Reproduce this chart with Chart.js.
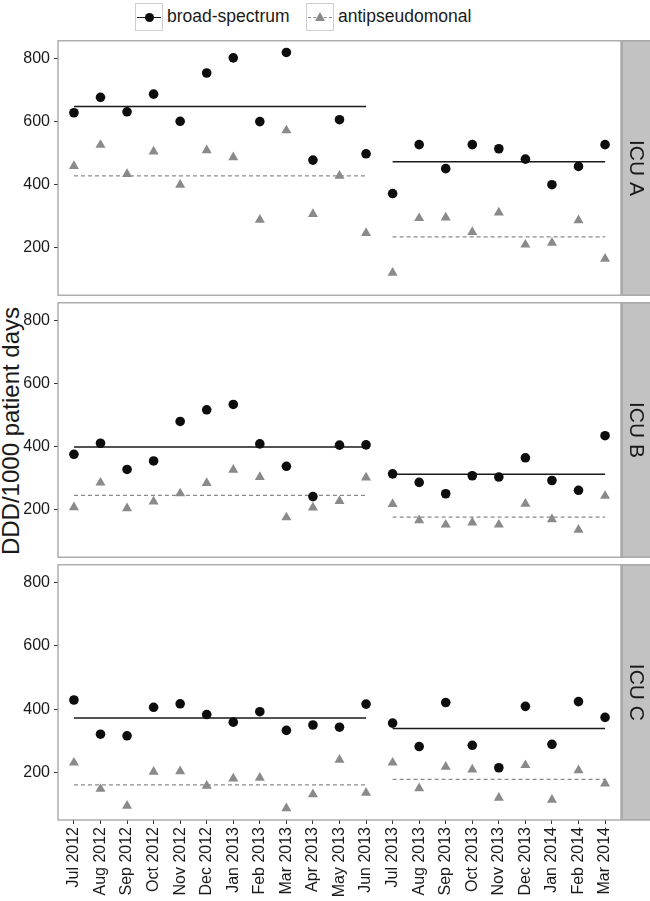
<!DOCTYPE html>
<html>
<head>
<meta charset="utf-8">
<script src="https://cdn.jsdelivr.net/npm/chart.js@4.4.1/dist/chart.umd.min.js"></script>
<style>
  body { margin: 0; background: #fff; font-family: "Liberation Sans", Arial, sans-serif; }
  #wrap { position: relative; width: 650px; height: 901px; overflow: hidden; }
  .box { position: absolute; left: 0; width: 650px; }
  .key { position: absolute; top: 3px; width: 28px; height: 28px; border: 1px solid #cfcfcf; box-sizing: border-box; }
  .key .ln { position: absolute; left: 1px; right: 1px; top: 13px; height: 0; }
  .key .dot { position: absolute; left: 9px; top: 9px; width: 9px; height: 9px; border-radius: 50%; background: #0d0d0d; }
  .key .tri { position: absolute; left: 8px; top: 8px; width: 0; height: 0;
              border-left: 5px solid transparent; border-right: 5px solid transparent; border-bottom: 9px solid #8a8a8a; }
  .lab { position: absolute; top: 6px; font-size: 17.5px; color: #1a1a1a; line-height: 20px; }
  #ytitle { position: absolute; left: 11px; top: 431px; transform: translate(-50%, -50%) rotate(-90deg);
            white-space: nowrap; font-size: 24px; color: #1a1a1a; }
</style>
</head>
<body>
<div id="wrap">
  <div class="key" style="left:135px"><div class="ln" style="border-top:1.3px solid #1a1a1a"></div><div class="dot"></div></div>
  <div class="lab" style="left:167px">broad-spectrum</div>
  <div class="key" style="left:306px"><div class="ln" style="border-top:1.2px dashed #8a8a8a"></div><div class="tri"></div></div>
  <div class="lab" style="left:338px">antipseudomonal</div>
  <div id="ytitle">DDD/1000 patient days</div>
  <div class="box" style="top:35px;height:266px"><canvas id="chartA"></canvas></div>
  <div class="box" style="top:297px;height:266px"><canvas id="chartB"></canvas></div>
  <div class="box" style="top:559px;height:342px"><canvas id="chartC"></canvas></div>
</div>
<script>
const months = ['Jul 2012', 'Aug 2012', 'Sep 2012', 'Oct 2012', 'Nov 2012', 'Dec 2012', 'Jan 2013',
                'Feb 2013', 'Mar 2013', 'Apr 2013', 'May 2013', 'Jun 2013', 'Jul 2013', 'Aug 2013',
                'Sep 2013', 'Oct 2013', 'Nov 2013', 'Dec 2013', 'Jan 2014', 'Feb 2014', 'Mar 2014'];
const yTicks = [200, 400, 600, 800];

// ICU A
const broadA = [628, 677, 631, 687, 601, 754, 802, 600, 819, 478, 606, 498,
                372, 527, 451, 527, 514, 481, 400, 458, 527];
const antiA  = [459, 526, 434, 505, 400, 509, 487, 289, 572, 307, 428, 247,
                121, 294, 296, 250, 312, 210, 216, 287, 165];
const broadMeanA = [648, 473];
const antiMeanA  = [428, 235];

// ICU B
const broadB = [376, 411, 328, 355, 480, 517, 534, 409, 338, 242, 405, 406,
                314, 287, 251, 308, 304, 365, 293, 262, 435];
const antiB  = [208, 286, 205, 226, 252, 285, 327, 304, 176, 207, 228, 302,
                218, 167, 153, 160, 153, 219, 170, 137, 244];
const broadMeanB = [399, 313];
const antiMeanB  = [246, 177];

// ICU C
const broadC = [429, 321, 316, 406, 417, 383, 359, 392, 333, 350, 343, 416,
                356, 282, 421, 286, 215, 409, 289, 424, 374];
const antiC  = [231, 148, 95, 202, 204, 158, 181, 183, 87, 131, 240, 136,
                231, 150, 218, 209, 120, 223, 114, 207, 165];
const broadMeanC = [372, 339];
const antiMeanC  = [161, 178];

// first and last month index of each period
const periods = [[0, 11], [12, 20]];

const FONT = '"Liberation Sans", Arial, sans-serif';
const BLACK = '#0d0d0d';
const GREY = '#8a8a8a';

function toPoints(values) {
    return values.map((v, i) => ({ x: i, y: v }));
}

function meanSegments(means) {
    let pts = [];
    periods.forEach((p, k) => {
        if (k > 0) pts.push({ x: p[0] - 0.5, y: null });
        pts.push({ x: p[0], y: means[k] });
        pts.push({ x: p[1], y: means[k] });
    });
    return pts;
}

// no label overhang padding, so every panel gets the same plot box
function noPad(s) {
    s.paddingTop = 0;
    s.paddingBottom = 0;
    s.paddingLeft = 0;
    s.paddingRight = 0;
}

const panelPlugin = {
    id: 'panel',
    beforeDatasetsDraw(chart) {
        const { ctx, chartArea: a } = chart;
        ctx.save();
        ctx.strokeStyle = '#9a9a9a';
        ctx.lineWidth = 1.2;
        ctx.strokeRect(a.left, a.top, a.right - a.left, a.bottom - a.top);
        ctx.restore();
    },
    afterDraw(chart, args, opts) {
        const { ctx, chartArea: a } = chart;
        ctx.save();
        ctx.fillStyle = '#c2c2c2';
        ctx.fillRect(a.right + 1, a.top, 40, a.bottom - a.top);
        ctx.strokeStyle = '#9a9a9a';
        ctx.lineWidth = 1.2;
        ctx.strokeRect(a.right + 1, a.top, 40, a.bottom - a.top);
        ctx.translate(a.right + 15, (a.top + a.bottom) / 2);
        ctx.rotate(Math.PI / 2);
        ctx.fillStyle = '#1a1a1a';
        ctx.font = '21px ' + FONT;
        ctx.textAlign = 'center';
        ctx.textBaseline = 'middle';
        ctx.fillText(opts.label, 0, 0);
        ctx.restore();
    }
};

function makePanel(id, label, broad, anti, broadMean, antiMean, showX) {
    return new Chart(document.getElementById(id), {
        type: 'scatter',
        data: {
            datasets: [
                { label: 'broad-spectrum', data: toPoints(broad), pointStyle: 'circle', pointRadius: 4.8,
                  backgroundColor: BLACK, borderColor: BLACK, borderWidth: 0 },
                { label: 'antipseudomonal', data: toPoints(anti), pointStyle: 'triangle', pointRadius: 5.8,
                  backgroundColor: GREY, borderColor: GREY, borderWidth: 0 },
                { label: 'broad mean', data: meanSegments(broadMean), showLine: true, spanGaps: false,
                  pointRadius: 0, borderColor: '#1a1a1a', borderWidth: 1.5 },
                { label: 'anti mean', data: meanSegments(antiMean), showLine: true, spanGaps: false,
                  pointRadius: 0, borderColor: GREY, borderWidth: 1.3, borderDash: [4, 3] }
            ]
        },
        options: {
            responsive: true,
            maintainAspectRatio: false,
            animation: false,
            layout: { padding: { top: 5, bottom: showX ? 0 : 5, left: 0, right: 29 } },
            plugins: {
                legend: { display: false },
                tooltip: { enabled: false },
                panel: { label: label }
            },
            scales: {
                x: {
                    type: 'linear',
                    display: showX,
                    min: -0.6,
                    max: months.length - 0.4,
                    afterBuildTicks: (s) => { s.ticks = months.map((m, i) => ({ value: i })); },
                    afterFit: (s) => { noPad(s); if (showX) s.height = 81; },
                    grid: { drawOnChartArea: false, drawTicks: true, tickLength: 4, color: '#333', lineWidth: 1 },
                    border: { display: false },
                    ticks: {
                        autoSkip: false, maxRotation: 90, minRotation: 90, padding: 3,
                        color: '#1a1a1a', font: { family: FONT, size: 16 },
                        callback: (v) => months[v]
                    }
                },
                y: {
                    min: 50,
                    max: 856,
                    afterBuildTicks: (s) => { s.ticks = yTicks.map(v => ({ value: v })); },
                    afterFit: (s) => { noPad(s); s.width = 58; },
                    grid: { drawOnChartArea: false, drawTicks: true, tickLength: 4, color: '#333', lineWidth: 1 },
                    border: { display: false },
                    ticks: { padding: 4, color: '#1a1a1a', font: { family: FONT, size: 16 } }
                }
            }
        },
        plugins: [panelPlugin]
    });
}

makePanel('chartA', 'ICU A', broadA, antiA, broadMeanA, antiMeanA, false);
makePanel('chartB', 'ICU B', broadB, antiB, broadMeanB, antiMeanB, false);
makePanel('chartC', 'ICU C', broadC, antiC, broadMeanC, antiMeanC, true);
</script>
</body>
</html>
